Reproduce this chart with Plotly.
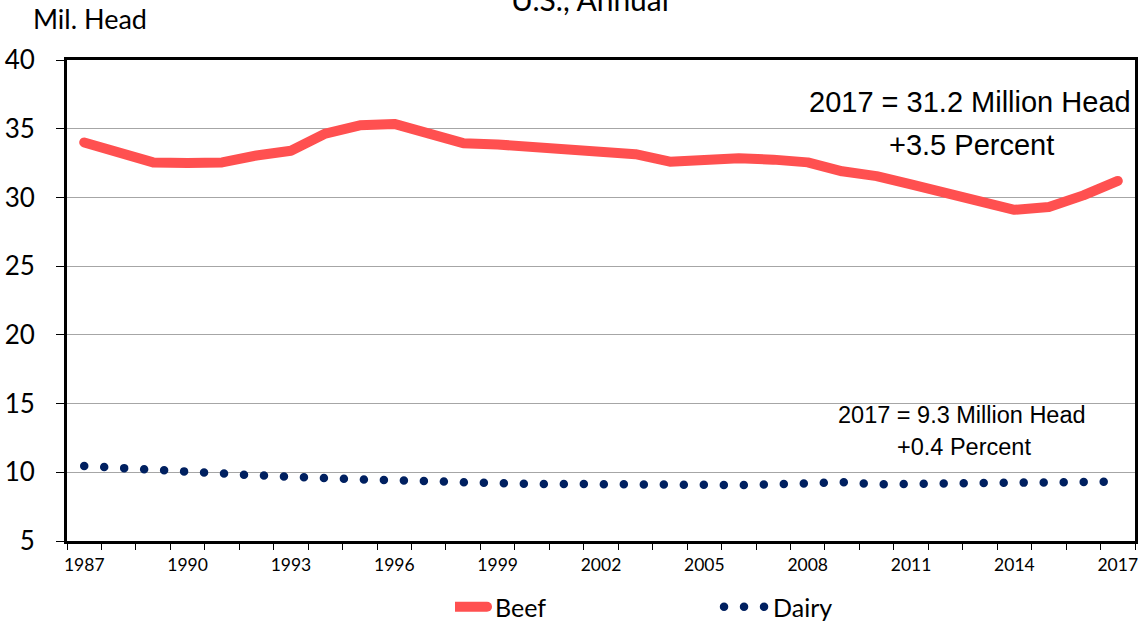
import plotly.graph_objects as go

years = list(range(1987, 2018))
beef = [34.0, 33.2, 32.55, 32.5, 32.55, 33.05, 33.4, 34.65, 35.25, 35.35, 34.6,
        33.95, 33.85, 33.7, 33.55, 33.3, 33.15, 32.6, 32.8, 32.85, 32.75, 32.55,
        31.9, 31.55, 30.95, 30.3, 29.7, 29.1, 29.3, 30.15, 31.2]
dairy = [10.46, 10.3, 10.15, 10.0, 9.95, 9.78, 9.68, 9.52, 9.48, 9.42, 9.34,
         9.22, 9.15, 9.15, 9.15, 9.12, 9.12, 9.0, 9.0, 9.07, 9.12, 9.22,
         9.28, 9.12, 9.12, 9.19, 9.19, 9.2, 9.27, 9.3, 9.33]
label_years = list(range(1987, 2018, 3))
label_text = [str(y) for y in label_years]
y_ticks = [5, 10, 15, 20, 25, 30, 35, 40]

BEEF_COLOR = "#FF5050"
DAIRY_COLOR = "#002060"
FONT = "Lato"
ARIAL = "Liberation Sans, Arial"

fig = go.Figure()
fig.add_trace(go.Scatter(x=years, y=beef, name="Beef", mode="lines",
                         line=dict(color=BEEF_COLOR, width=10)))
fig.add_trace(go.Scatter(x=years, y=dairy, name="Dairy", mode="lines",
                         line=dict(color=DAIRY_COLOR, width=8.5, dash="0px,20px")))

minor_vals = [y - 0.5 for y in years] + [years[-1] + 0.5]

fig.update_layout(
    width=1141, height=624,
    margin=dict(l=67, r=6, t=60, b=83),
    plot_bgcolor="white", paper_bgcolor="white",
    font=dict(family=FONT, color="black"),
    showlegend=True,
    legend=dict(orientation="h", xref="container", yref="container",
                x=0.3988, xanchor="left", y=0.0272, yanchor="middle",
                font=dict(size=25, family=FONT), entrywidth=233, entrywidthmode="pixels",
                bgcolor="rgba(0,0,0,0)"),
    xaxis=dict(range=[years[0] - 0.5, years[-1] + 0.5], tickmode="array",
               tickvals=label_years, ticktext=label_text, automargin=False,
               ticks="outside", ticklen=6, tickcolor="rgba(0,0,0,0)",
               tickfont=dict(size=17.5, family=FONT), ticklabelstandoff=0,
               showline=True, linecolor="black", linewidth=3, mirror=True,
               showgrid=False, zeroline=False,
               minor=dict(tickmode="array", tickvals=minor_vals, ticks="outside",
                          ticklen=6, tickcolor="black", tickwidth=1, showgrid=False)),
    yaxis=dict(range=[5, 40], tickmode="array", tickvals=y_ticks, automargin=False,
               ticks="outside", ticklen=8, tickcolor="black", tickwidth=1,
               tickfont=dict(size=26, family=FONT), ticklabelstandoff=16,
               showline=True, linecolor="black", linewidth=3, mirror=True,
               showgrid=True, gridcolor="#A6A6A6", gridwidth=1.2, zeroline=False),
)

fig.add_annotation(text="Mil. Head", xref="paper", yref="paper", x=-0.034, y=1.086,
                   xanchor="left", yanchor="middle", showarrow=False,
                   font=dict(size=27, family=FONT))
fig.add_annotation(text="U.S., Annual", xref="paper", yref="paper", x=0.49, y=1.126,
                   xanchor="center", yanchor="middle", showarrow=False,
                   font=dict(size=30, family=FONT))
fig.add_annotation(text="2017 = 31.2 Million Head", xref="paper", yref="paper",
                   x=0.8455, y=0.9127, xanchor="center", yanchor="middle",
                   showarrow=False, font=dict(size=29, family=ARIAL))
fig.add_annotation(text="+3.5 Percent", xref="paper", yref="paper",
                   x=0.8465, y=0.8233, xanchor="center", yanchor="middle",
                   showarrow=False, font=dict(size=29, family=ARIAL))
fig.add_annotation(text="2017 = 9.3 Million Head", xref="paper", yref="paper",
                   x=0.838, y=0.262, xanchor="center", yanchor="middle",
                   showarrow=False, font=dict(size=23.5, family=ARIAL))
fig.add_annotation(text="+0.4 Percent", xref="paper", yref="paper",
                   x=0.840, y=0.1954, xanchor="center", yanchor="middle",
                   showarrow=False, font=dict(size=23.5, family=ARIAL))

post = ("document.body.style.margin='0';document.body.style.padding='0';"
        "var s=document.createElement('style');"
        "s.innerHTML='html,body{margin:0!important;padding:0!important;overflow:hidden;}"
        ".js-line{stroke-linecap:round !important;stroke-linejoin:round !important;}';"
        "document.head.appendChild(s);"
        "document.querySelectorAll('.legendlines path').forEach(function(p){p.setAttribute('d','M-9,0h41');});")
fig.write_html("out.html", post_script=post, config={"displayModeBar": False})
